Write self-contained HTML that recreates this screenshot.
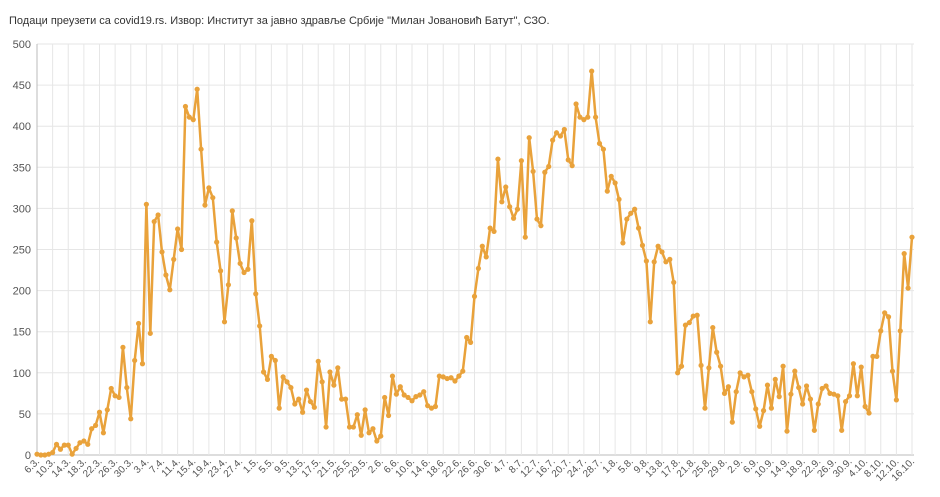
<!DOCTYPE html>
<html><head><meta charset="utf-8"><style>
html,body{margin:0;padding:0;background:#fff;width:940px;height:497px;overflow:hidden}
svg text{font-family:"Liberation Sans",sans-serif}
</style></head><body>
<svg id="chart" width="940" height="497" xmlns="http://www.w3.org/2000/svg">
<text x="9" y="24" font-size="11" fill="#333">Подаци преузети са covid19.rs. Извор: Институт за јавно здравље Србије "Милан Јовановић Батут", СЗО.</text>
<g id="grid"></g><g id="axes"></g><g id="series"></g>
</svg>
<script>
const values = [1,0,0,1,3,13,7,12,12,1,8,15,17,13,32,36,52,27,55,81,72,70,131,82,44,115,160,111,305,148,284,292,247,219,201,238,275,250,424,411,408,445,372,304,325,313,259,224,162,207,297,264,233,222,226,285,196,157,101,92,120,115,57,95,89,82,62,68,52,79,65,58,114,89,34,101,85,106,68,68,34,34,49,24,55,27,32,17,23,70,48,96,74,83,73,70,66,71,73,77,60,57,59,96,95,93,94,90,96,102,143,137,193,227,254,241,276,272,360,308,326,302,288,299,358,265,386,345,287,279,344,351,383,392,388,396,359,352,427,411,408,411,467,411,379,372,321,339,331,311,258,287,294,299,276,255,236,162,235,254,247,235,238,210,100,108,158,161,169,170,109,57,106,155,125,108,75,83,40,77,100,95,97,77,56,35,54,85,57,92,71,108,29,74,102,82,62,84,68,30,62,81,84,75,74,72,30,65,72,111,72,107,59,51,120,120,151,173,168,102,67,151,245,203,265];
const tickLabels = ["6.3.","10.3.","14.3.","18.3.","22.3.","26.3.","30.3.","3.4.","7.4.","11.4.","15.4.","19.4.","23.4.","27.4.","1.5.","5.5.","9.5.","13.5.","17.5.","21.5.","25.5.","29.5.","2.6.","6.6.","10.6.","14.6.","18.6.","22.6.","26.6.","30.6.","4.7.","8.7.","12.7.","16.7.","20.7.","24.7.","28.7.","1.8.","5.8.","9.8.","13.8.","17.8.","21.8.","25.8.","29.8.","2.9.","6.9.","10.9.","14.9.","18.9.","22.9.","26.9.","30.9.","4.10.","8.10.","12.10.","16.10."];
const yTicks = [0,50,100,150,200,250,300,350,400,450,500];
const tickStep = 4;

const NS="http://www.w3.org/2000/svg";
const X0=37,X1=912,Y0=455,Y1=44,YMAX=500;
const n=values.length;
function xs(i){return X0+(X1-X0)*i/(n-1);}
function ys(v){return Y0-(Y0-Y1)*v/YMAX;}
function mk(tag,attrs,parent){const e=document.createElementNS(NS,tag);for(const k in attrs)e.setAttribute(k,attrs[k]);parent.appendChild(e);return e;}
const grid=document.getElementById('grid'),axes=document.getElementById('axes'),series=document.getElementById('series');
yTicks.forEach(v=>{
  const l=mk('line',{x1:X0,x2:X1+2,y1:ys(v),y2:ys(v),stroke:v===0?'#bbb':'#e6e6e6','stroke-width':1},grid);
  
  
  const t=mk('text',{x:31,y:ys(v)+4,'font-size':11,fill:'#555','text-anchor':'end'},axes);
  t.textContent=v;
  
  
});
tickLabels.forEach((lab,k)=>{
  const x=xs(k*tickStep);
  const l=mk('line',{x1:x,x2:x,y1:Y1,y2:Y0,stroke:k===0?'#bbb':'#e6e6e6','stroke-width':1},grid);
  
  
  const t=mk('text',{x:x+3,y:Y0+7,'font-size':10,fill:'#555','text-anchor':'end',transform:`rotate(-45 ${x+3} ${Y0+7})`},axes);
  t.textContent=lab;
  
  
});
const pts=values.map((v,i)=>xs(i).toFixed(1)+','+ys(v).toFixed(1)).join(' ');
const pl=mk('polyline',{points:pts,fill:'none',stroke:'#e9a23b','stroke-width':2.5,'stroke-linejoin':'round'},series);


values.forEach((v,i)=>{
  const c=mk('circle',{cx:xs(i),cy:ys(v),r:2.6,fill:'#e9a23b'},series);
  
  
});
</script>
</body></html>
